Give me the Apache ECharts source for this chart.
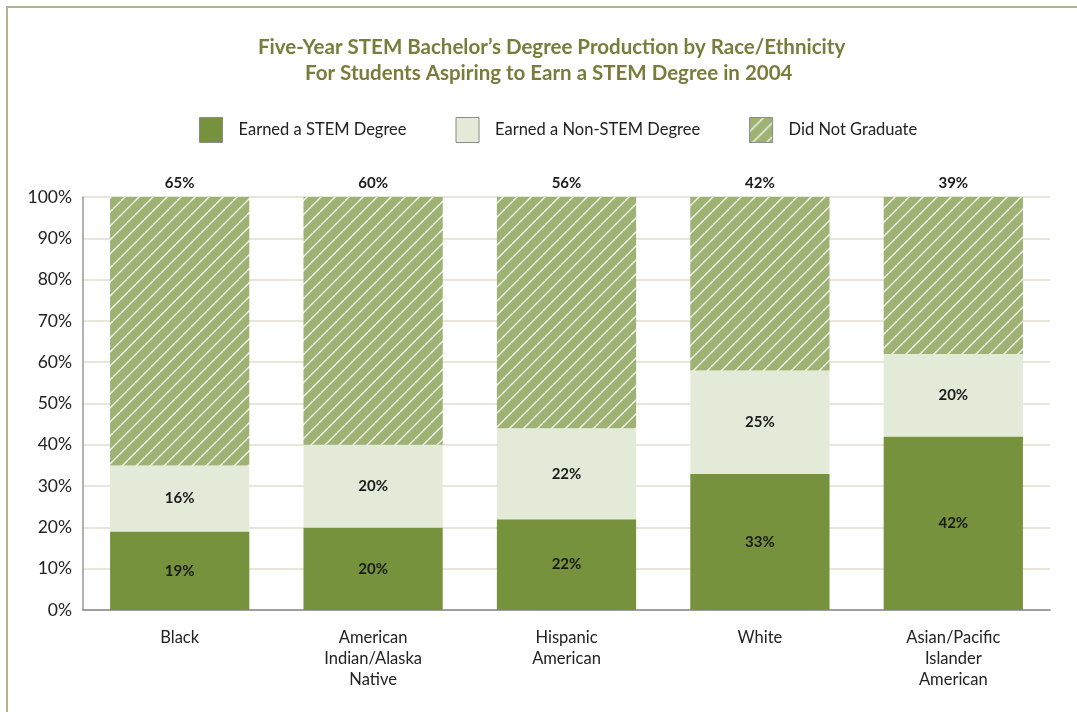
<!DOCTYPE html>
<html>
<head>
<meta charset="utf-8">
<script src="https://cdn.jsdelivr.net/npm/echarts@6/dist/echarts.min.js"></script>
<style>
html,body{margin:0;padding:0;background:#fff;}
#frame{position:absolute;left:6px;top:6px;width:1071px;height:706px;border-left:2px solid #b3b48e;border-top:2px solid #b3b48e;box-sizing:border-box;}
#chart{position:absolute;left:0;top:0;width:1077px;height:712px;}
</style>
</head>
<body>
<div id="frame"></div>
<div id="chart"></div>
<script>
const categories = ['Black', 'American\nIndian/Alaska\nNative', 'Hispanic\nAmerican', 'White', 'Asian/Pacific\nIslander\nAmerican'];
const seriesNames = ['Earned a STEM Degree', 'Earned a Non-STEM Degree', 'Did Not Graduate'];
const stemDegree = [19, 20, 22, 33, 42];
const nonStemDegree = [16, 20, 22, 25, 20];
const didNotGraduate = [65, 60, 56, 42, 39];
const yTicks = [0, 10, 20, 30, 40, 50, 60, 70, 80, 90, 100];
const titleLines = ['Five-Year STEM Bachelor’s Degree Production by Race/Ethnicity', 'For Students Aspiring to Earn a STEM Degree in 2004'];

function hatch(){
  const s = 14;
  const c = document.createElement('canvas');
  c.width = s; c.height = s;
  const g = c.getContext('2d');
  g.fillStyle = '#9db273';
  g.fillRect(0,0,s,s);
  g.strokeStyle = 'rgba(255,255,255,0.95)';
  g.lineWidth = 1.3;
  g.beginPath();
  g.moveTo(-2, s+2); g.lineTo(s+2, -2);
  g.moveTo(-2, 2); g.lineTo(2, -2);
  g.moveTo(s-2, s+2); g.lineTo(s+2, s-2);
  g.stroke();
  return c;
}
const hatchImg = hatch();

const font = 'Lato';
const chart = echarts.init(document.getElementById('chart'));
const lbl = {
  show: true, position: 'inside', color: '#1a1a1a', fontWeight: 'bold', fontSize: 15, fontFamily: font,
  formatter: p => p.value + '%'
};
const titleStyle = { color: '#7b7b3c', fontSize: 20.5, fontWeight: 'bold', fontFamily: font, lineHeight: 26 };
chart.setOption({
  animation: false,
  title: [
    { text: titleLines[0], left: 253, top: 29, textStyle: titleStyle },
    { text: titleLines[1], left: 300, top: 55, textStyle: titleStyle }
  ],
  legend: {
    top: 112, left: 194, icon: 'rect',
    itemWidth: 23, itemHeight: 25, itemGap: 49,
    textStyle: { fontSize: 16.5, color: '#222', fontFamily: font, padding: [0, 0, 0, 11] },
    itemStyle: { borderColor: '#8a8a8a', borderWidth: 1 },
    data: seriesNames
  },
  grid: { left: 83, right: 27, top: 197, bottom: 102 },
  xAxis: {
    type: 'category', data: categories,
    axisLine: { lineStyle: { color: '#888', width: 1.5 } },
    axisTick: { inside: true, length: 9, lineStyle: { color: '#888' } },
    axisLabel: { color: '#222', fontSize: 16.5, fontFamily: font, lineHeight: 21, margin: 17 }
  },
  yAxis: {
    type: 'value', min: 0, max: 100, interval: 10,
    axisLine: { show: true, lineStyle: { color: '#999', width: 1.5 } },
    axisTick: { show: false },
    axisLabel: { color: '#222', fontSize: 17.5, fontFamily: font, margin: 11,
      formatter: v => yTicks.includes(v) ? v + '%' : '' },
    splitLine: { lineStyle: { color: '#e2ddcb', width: 1.5 } }
  },
  series: [
    { name: seriesNames[0], type: 'bar', stack: 'all', barCategoryGap: '28%', data: stemDegree,
      itemStyle: { color: '#77923c' }, label: lbl },
    { name: seriesNames[1], type: 'bar', stack: 'all', data: nonStemDegree,
      itemStyle: { color: '#e3ebd8' }, label: lbl },
    { name: seriesNames[2], type: 'bar', stack: 'all', data: didNotGraduate, clip: true,
      itemStyle: { color: { image: hatchImg, repeat: 'repeat' } },
      label: Object.assign({}, lbl, { position: 'top', distance: 6 }) }
  ]
});
</script>
</body>
</html>
